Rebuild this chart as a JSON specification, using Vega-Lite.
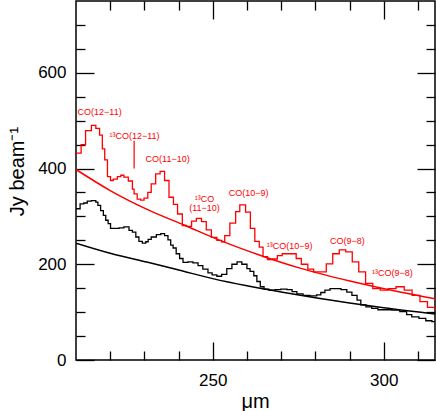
{
  "$schema": "https://vega.github.io/schema/vega-lite/v6.json",
  "width": 359,
  "height": 359,
  "autosize": "none",
  "padding": {"left": 76, "top": 1, "right": 1, "bottom": 51},
  "config": {
    "view": {"stroke": "#000", "strokeWidth": 1.5},
    "axis": {
      "domain": false, "grid": false,
      "tickColor": "#000", "tickWidth": 1.3,
      "labelFont": "Liberation Sans", "labelFontSize": 17, "labelColor": "#000",
      "titleFont": "Liberation Sans", "titleFontSize": 20, "titleFontWeight": "normal", "titleColor": "#000"
    }
  },
  "datasets": {
    "red": [
      {"wl": 210.0, "flux": 432}, {"wl": 211.5, "flux": 450}, {"wl": 212.8, "flux": 479}, {"wl": 214.5, "flux": 490},
      {"wl": 215.8, "flux": 484}, {"wl": 216.9, "flux": 470}, {"wl": 217.7, "flux": 441}, {"wl": 218.4, "flux": 418},
      {"wl": 219.2, "flux": 383}, {"wl": 220.1, "flux": 375}, {"wl": 220.9, "flux": 378}, {"wl": 222.1, "flux": 383},
      {"wl": 223.1, "flux": 386}, {"wl": 224.0, "flux": 382}, {"wl": 225.3, "flux": 374}, {"wl": 226.5, "flux": 357},
      {"wl": 227.0, "flux": 347}, {"wl": 227.9, "flux": 336}, {"wl": 228.9, "flux": 334}, {"wl": 229.9, "flux": 338},
      {"wl": 231.0, "flux": 350}, {"wl": 232.0, "flux": 368}, {"wl": 233.3, "flux": 389}, {"wl": 234.6, "flux": 394},
      {"wl": 235.9, "flux": 375}, {"wl": 237.2, "flux": 340}, {"wl": 238.5, "flux": 325}, {"wl": 239.7, "flux": 305},
      {"wl": 241.1, "flux": 281}, {"wl": 242.3, "flux": 279}, {"wl": 243.8, "flux": 290}, {"wl": 245.2, "flux": 296},
      {"wl": 246.7, "flux": 289}, {"wl": 248.1, "flux": 272}, {"wl": 249.6, "flux": 256}, {"wl": 251.2, "flux": 250},
      {"wl": 252.6, "flux": 247}, {"wl": 253.5, "flux": 260}, {"wl": 255.0, "flux": 286}, {"wl": 256.7, "flux": 310},
      {"wl": 257.9, "flux": 324}, {"wl": 259.6, "flux": 309}, {"wl": 261.0, "flux": 275}, {"wl": 262.3, "flux": 248},
      {"wl": 263.6, "flux": 236}, {"wl": 264.7, "flux": 216}, {"wl": 266.0, "flux": 210}, {"wl": 267.5, "flux": 211},
      {"wl": 268.9, "flux": 218}, {"wl": 270.3, "flux": 222}, {"wl": 272.5, "flux": 222}, {"wl": 274.4, "flux": 212},
      {"wl": 275.9, "flux": 200}, {"wl": 277.8, "flux": 190}, {"wl": 279.5, "flux": 184}, {"wl": 281.4, "flux": 184},
      {"wl": 283.2, "flux": 201}, {"wl": 285.1, "flux": 222}, {"wl": 287.0, "flux": 230}, {"wl": 288.9, "flux": 226},
      {"wl": 290.8, "flux": 205}, {"wl": 292.7, "flux": 184}, {"wl": 294.7, "flux": 160}, {"wl": 296.8, "flux": 149},
      {"wl": 299.0, "flux": 146}, {"wl": 301.3, "flux": 149}, {"wl": 303.6, "flux": 153}, {"wl": 306.0, "flux": 146},
      {"wl": 308.3, "flux": 135}, {"wl": 310.6, "flux": 122}, {"wl": 312.8, "flux": 110}, {"wl": 315.0, "flux": 104},
      {"wl": 315.5, "flux": 104}
    ],
    "black": [
      {"wl": 210.0, "flux": 316}, {"wl": 211.2, "flux": 326}, {"wl": 212.3, "flux": 328}, {"wl": 213.3, "flux": 332},
      {"wl": 214.5, "flux": 333}, {"wl": 215.8, "flux": 330}, {"wl": 216.4, "flux": 323}, {"wl": 217.2, "flux": 312},
      {"wl": 218.0, "flux": 302}, {"wl": 218.7, "flux": 292}, {"wl": 219.4, "flux": 285}, {"wl": 220.1, "flux": 275},
      {"wl": 222.6, "flux": 276}, {"wl": 224.0, "flux": 278}, {"wl": 225.5, "flux": 271}, {"wl": 226.5, "flux": 267},
      {"wl": 227.5, "flux": 257}, {"wl": 228.4, "flux": 248}, {"wl": 229.4, "flux": 244}, {"wl": 230.4, "flux": 247},
      {"wl": 231.1, "flux": 252}, {"wl": 232.0, "flux": 257}, {"wl": 233.5, "flux": 262}, {"wl": 234.8, "flux": 264},
      {"wl": 235.9, "flux": 260}, {"wl": 236.9, "flux": 251}, {"wl": 237.7, "flux": 240}, {"wl": 238.4, "flux": 234},
      {"wl": 239.3, "flux": 222}, {"wl": 240.3, "flux": 212}, {"wl": 241.3, "flux": 204}, {"wl": 242.7, "flux": 205},
      {"wl": 244.2, "flux": 203}, {"wl": 245.7, "flux": 197}, {"wl": 247.1, "flux": 190}, {"wl": 248.6, "flux": 182},
      {"wl": 249.8, "flux": 178}, {"wl": 251.2, "flux": 175}, {"wl": 252.6, "flux": 179}, {"wl": 254.1, "flux": 191},
      {"wl": 255.6, "flux": 200}, {"wl": 257.1, "flux": 205}, {"wl": 258.5, "flux": 200}, {"wl": 260.0, "flux": 191},
      {"wl": 260.9, "flux": 185}, {"wl": 262.0, "flux": 176}, {"wl": 262.9, "flux": 164}, {"wl": 263.9, "flux": 153},
      {"wl": 265.0, "flux": 148}, {"wl": 266.4, "flux": 146}, {"wl": 268.2, "flux": 147}, {"wl": 269.9, "flux": 148},
      {"wl": 271.7, "flux": 147}, {"wl": 273.2, "flux": 143}, {"wl": 274.6, "flux": 138}, {"wl": 276.4, "flux": 135},
      {"wl": 278.4, "flux": 134}, {"wl": 280.4, "flux": 136}, {"wl": 281.6, "flux": 141}, {"wl": 282.8, "flux": 146},
      {"wl": 284.3, "flux": 149}, {"wl": 286.0, "flux": 149}, {"wl": 287.5, "flux": 147}, {"wl": 289.2, "flux": 142},
      {"wl": 290.7, "flux": 135}, {"wl": 292.2, "flux": 125}, {"wl": 293.3, "flux": 115}, {"wl": 294.8, "flux": 111},
      {"wl": 296.5, "flux": 108}, {"wl": 298.3, "flux": 105}, {"wl": 300.4, "flux": 105}, {"wl": 302.4, "flux": 104},
      {"wl": 304.7, "flux": 101}, {"wl": 306.7, "flux": 95}, {"wl": 308.2, "flux": 90}, {"wl": 310.3, "flux": 87},
      {"wl": 312.3, "flux": 82}, {"wl": 314.1, "flux": 80}, {"wl": 315.5, "flux": 80}
    ],
    "redfit": [
      {"wl": 210, "flux": 398}, {"wl": 220, "flux": 354}, {"wl": 231.6, "flux": 312}, {"wl": 241.9, "flux": 281},
      {"wl": 252.1, "flux": 250}, {"wl": 263.8, "flux": 219}, {"wl": 275.5, "flux": 192}, {"wl": 290.1, "flux": 165},
      {"wl": 304.7, "flux": 142}, {"wl": 315, "flux": 128}
    ],
    "blackfit": [
      {"wl": 210, "flux": 244}, {"wl": 220, "flux": 223}, {"wl": 231, "flux": 204}, {"wl": 240, "flux": 188},
      {"wl": 250, "flux": 170}, {"wl": 260, "flux": 155}, {"wl": 270, "flux": 142}, {"wl": 280, "flux": 130},
      {"wl": 290, "flux": 119}, {"wl": 300, "flux": 109}, {"wl": 315, "flux": 96}
    ],
    "labels": [
      {"wl": 216.9, "flux": 519, "text": "CO(12−11)"},
      {"wl": 227.1, "flux": 469, "text": "¹³CO(12−11)"},
      {"wl": 236.8, "flux": 419, "text": "CO(11−10)"},
      {"wl": 247.6, "flux": 337, "text": "¹³CO"},
      {"wl": 247.6, "flux": 317, "text": "(11−10)"},
      {"wl": 260.5, "flux": 348, "text": "CO(10−9)"},
      {"wl": 272.5, "flux": 239, "text": "¹³CO(10−9)"},
      {"wl": 289.4, "flux": 248, "text": "CO(9−8)"},
      {"wl": 302.5, "flux": 181, "text": "¹³CO(9−8)"}
    ],
    "marker": [
      {"wl": 227.0, "flux": 400, "flux2": 458}
    ]
  },
  "resolve": {"axis": {"x": "independent", "y": "independent"}},
  "layer": [
    {
      "data": {"name": "red"},
      "mark": {"type": "line", "interpolate": "step-after", "color": "#ff0000", "strokeWidth": 1.3, "clip": true},
      "encoding": {
        "x": {"field": "wl", "type": "quantitative", "scale": {"domain": [210, 315], "nice": false, "zero": false},
              "axis": {"orient": "bottom", "values": [250, 300], "ticks": false, "labelPadding": 25, "labelBaseline": "alphabetic", "title": "μm", "titleX": 179, "titleY": 47, "titleBaseline": "alphabetic"}},
        "y": {"field": "flux", "type": "quantitative", "scale": {"domain": [0, 750], "nice": false, "zero": false},
              "axis": {"orient": "left", "values": [0, 200, 400, 600], "ticks": false, "labelPadding": 10, "title": "Jy beam⁻¹", "titleX": -53, "titleY": 170, "titleAngle": -90, "titleBaseline": "alphabetic", "titleAlign": "center"}}
      }
    },
    {
      "data": {"name": "black"},
      "mark": {"type": "line", "interpolate": "step-after", "color": "#000000", "strokeWidth": 1.3, "clip": true},
      "encoding": {
        "x": {"field": "wl", "type": "quantitative", "scale": {"domain": [210, 315], "nice": false, "zero": false},
              "axis": {"orient": "bottom", "values": [250, 300], "tickSize": -18, "labels": false, "title": null}},
        "y": {"field": "flux", "type": "quantitative", "scale": {"domain": [0, 750], "nice": false, "zero": false},
              "axis": {"orient": "left", "values": [0, 200, 400, 600], "tickSize": -18, "labels": false, "title": null}}
      }
    },
    {
      "data": {"name": "redfit"},
      "mark": {"type": "line", "interpolate": "monotone", "color": "#ff0000", "strokeWidth": 1.5, "clip": true},
      "encoding": {
        "x": {"field": "wl", "type": "quantitative", "scale": {"domain": [210, 315], "nice": false, "zero": false},
              "axis": {"orient": "bottom", "values": [220, 230, 240, 260, 270, 280, 290, 310], "tickSize": -9, "labels": false, "title": null}},
        "y": {"field": "flux", "type": "quantitative", "scale": {"domain": [0, 750], "nice": false, "zero": false},
              "axis": {"orient": "left", "values": [50, 100, 150, 250, 300, 350, 450, 500, 550, 650, 700], "tickSize": -9, "labels": false, "title": null}}
      }
    },
    {
      "data": {"name": "blackfit"},
      "mark": {"type": "line", "interpolate": "monotone", "color": "#000000", "strokeWidth": 1.5, "clip": true},
      "encoding": {
        "x": {"field": "wl", "type": "quantitative", "scale": {"domain": [210, 315], "nice": false, "zero": false},
              "axis": {"orient": "top", "values": [250, 300], "tickSize": -18, "labels": false, "title": null}},
        "y": {"field": "flux", "type": "quantitative", "scale": {"domain": [0, 750], "nice": false, "zero": false},
              "axis": {"orient": "right", "values": [0, 200, 400, 600], "tickSize": -18, "labels": false, "title": null}}
      }
    },
    {
      "data": {"name": "labels"},
      "mark": {"type": "text", "color": "#ff0000", "font": "Liberation Sans", "fontSize": 9, "baseline": "middle", "align": "center"},
      "encoding": {
        "x": {"field": "wl", "type": "quantitative", "scale": {"domain": [210, 315], "nice": false, "zero": false},
              "axis": {"orient": "top", "values": [220, 230, 240, 260, 270, 280, 290, 310], "tickSize": -9, "labels": false, "title": null}},
        "y": {"field": "flux", "type": "quantitative", "scale": {"domain": [0, 750], "nice": false, "zero": false},
              "axis": {"orient": "right", "values": [50, 100, 150, 250, 300, 350, 450, 500, 550, 650, 700], "tickSize": -9, "labels": false, "title": null}},
        "text": {"field": "text", "type": "nominal"}
      }
    },
    {
      "data": {"name": "marker"},
      "mark": {"type": "rule", "color": "#ff0000", "strokeWidth": 1.2},
      "encoding": {
        "x": {"field": "wl", "type": "quantitative", "scale": {"domain": [210, 315], "nice": false, "zero": false}, "axis": null},
        "y": {"field": "flux", "type": "quantitative", "scale": {"domain": [0, 750], "nice": false, "zero": false}, "axis": null},
        "y2": {"field": "flux2"}
      }
    }
  ]
}
